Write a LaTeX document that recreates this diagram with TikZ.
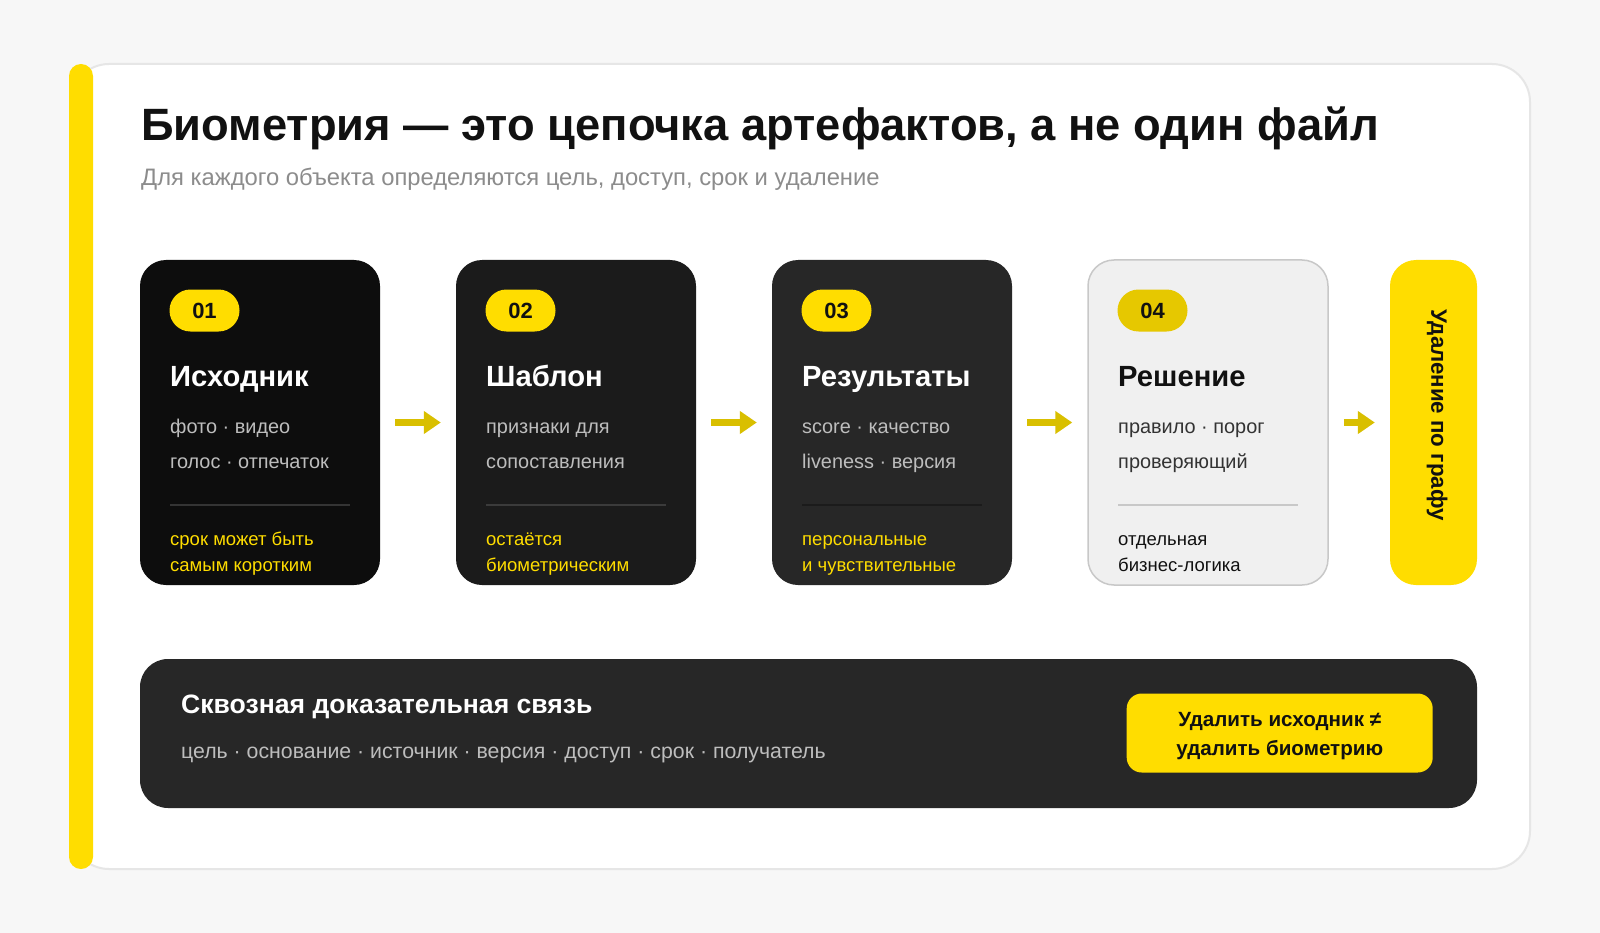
\documentclass[tikz,border=0pt]{standalone}
\usepackage{fontspec}
\setmainfont{Liberation Sans}
\usetikzlibrary{arrows.meta}
\definecolor{bgc}{HTML}{F7F7F7}
\definecolor{frame}{HTML}{E6E6E6}
\definecolor{ylw}{HTML}{FFDD00}
\definecolor{ylwdark}{HTML}{E6C800}
\definecolor{arrc}{HTML}{D9BF00}
\definecolor{cardA}{HTML}{0D0D0D}
\definecolor{cardB}{HTML}{1B1B1B}
\definecolor{cardC}{HTML}{272727}
\definecolor{cardD}{HTML}{F0F0F0}
\definecolor{cardDline}{HTML}{C8C8C8}
\definecolor{bodygray}{HTML}{BDBDBD}
\definecolor{subgray}{HTML}{8C8C8C}
\definecolor{darktext}{HTML}{111111}
\definecolor{panel}{HTML}{272727}
\newcommand\setfs[2]{\fontsize{#1}{#2}\selectfont}
\tikzset{
  card/.style={rounded corners=26pt, minimum width=240pt, minimum height=325pt, inner sep=0pt, draw=none},
  badge/.style={rounded corners=21pt, minimum width=70pt, minimum height=42pt, inner sep=0pt, fill=ylw, text=darktext, font=\setfs{22}{22}\bfseries},
  ctitle/.style={anchor=base west, inner sep=0pt, font=\setfs{29.2}{29.2}\bfseries},
  cbody/.style={anchor=base west, inner sep=0pt, align=left, font=\setfs{19.9}{35}},
  cfoot/.style={anchor=base west, inner sep=0pt, align=left, font=\setfs{18.5}{26.7}},
  arr/.style={draw=arrc, line width=7pt, -{Triangle[length=17pt,width=22pt]}, shorten <=15pt, shorten >=15pt},
  divl/.style={line width=1.5pt}
}
\begin{document}
\begin{tikzpicture}[x=1pt,y=-1pt]
\useasboundingbox (0,0) rectangle (1600,933);
\fill[bgc] (0,0) rectangle (1600,933);
% main card
\draw[fill=white, draw=frame, line width=2pt, rounded corners=38pt] (71,64) rectangle (1530,869);
\fill[ylw, rounded corners=12pt] (69,64) rectangle (93,869);
% title
\node[anchor=base west, inner sep=0pt, font=\setfs{45.3}{45.3}\bfseries, text=darktext] (title) at (141,140.7) {Биометрия — это цепочка артефактов, а не один файл};
\node[anchor=base west, inner sep=0pt, font=\setfs{23.8}{23.8}, text=subgray] (subtitle) at (141,186) {Для каждого объекта определяются цель, доступ, срок и удаление};
% cards
\node[card, fill=cardA] (c1) at (260,422.5) {};
\node[card, fill=cardB] (c2) at (576,422.5) {};
\node[card, fill=cardC] (c3) at (892,422.5) {};
\node[card, fill=cardD, draw=cardDline, line width=1.5pt] (c4) at (1208,422.5) {};
\node[card, fill=ylw, minimum width=87pt] (c5) at (1433.5,422.5) {};
% card 1
\node[badge] (b1) at (204.5,310.5) {01};
\node[ctitle, text=white] (t1) at (170,386.7) {Исходник};
\node[cbody, text=bodygray] (d1) at (170,468.3) {фото · видео\\голос · отпечаток};
\draw[divl, draw=white!16!cardA] (170,505) -- (350,505);
\node[cfoot, text=ylw] (f1) at (170,571.7) {срок может быть\\самым коротким};
% card 2
\node[badge] (b2) at (520.5,310.5) {02};
\node[ctitle, text=white] (t2) at (486,386.7) {Шаблон};
\node[cbody, text=bodygray] (d2) at (486,468.3) {признаки для\\сопоставления};
\draw[divl, draw=white!14!cardB] (486,505) -- (666,505);
\node[cfoot, text=ylw] (f2) at (486,571.7) {остаётся\\биометрическим};
% card 3
\node[badge] (b3) at (836.5,310.5) {03};
\node[ctitle, text=white] (t3) at (802,386.7) {Результаты};
\node[cbody, text=bodygray] (d3) at (802,468.3) {score · качество\\liveness · версия};
\draw[divl, draw=black!30!cardC] (802,505) -- (982,505);
\node[cfoot, text=ylw] (f3) at (802,571.7) {персональные\\и чувствительные};
% card 4
\node[badge, fill=ylwdark] (b4) at (1152.5,310.5) {04};
\node[ctitle, text=darktext] (t4) at (1118,386.7) {Решение};
\node[cbody, text=black!80] (d4) at (1118,468.3) {правило · порог\\проверяющий};
\draw[divl, draw=cardDline] (1118,505) -- (1298,505);
\node[cfoot, text=darktext] (f4) at (1118,571.7) {отдельная\\бизнес-логика};
% card 5
\node[rotate=-90, inner sep=0pt, font=\setfs{22.3}{22.3}\bfseries, text=darktext] (t5) at (1437,415) {Удаление по графу};
% arrows
\draw[arr] (c1.east) -- (c2.west);
\draw[arr] (c2.east) -- (c3.west);
\draw[arr] (c3.east) -- (c4.west);
\draw[arr] (c4.east) -- (c5.west);
% bottom panel
\node[fill=panel, rounded corners=28pt, minimum width=1337pt, minimum height=149pt, inner sep=0pt] (panel) at (808.5,733.5) {};
\node[anchor=base west, inner sep=0pt, font=\setfs{26.6}{26.6}\bfseries, text=white] (pt) at (181,713.3) {Сквозная доказательная связь};
\node[anchor=base west, inner sep=0pt, font=\setfs{21.3}{21.3}, text=bodygray] (pl) at (181,758.3) {цель · основание · источник · версия · доступ · срок · получатель};
\node[fill=ylw, rounded corners=15pt, minimum width=306pt, minimum height=79pt, inner sep=0pt] (btn) at (1279.7,733) {};
\node[anchor=base, inner sep=0pt, align=center, font=\setfs{20.6}{28.3}\bfseries, text=darktext] (btxt) at (1279.7,755) {Удалить исходник ≠\\удалить биометрию};
\end{tikzpicture}
\end{document}
